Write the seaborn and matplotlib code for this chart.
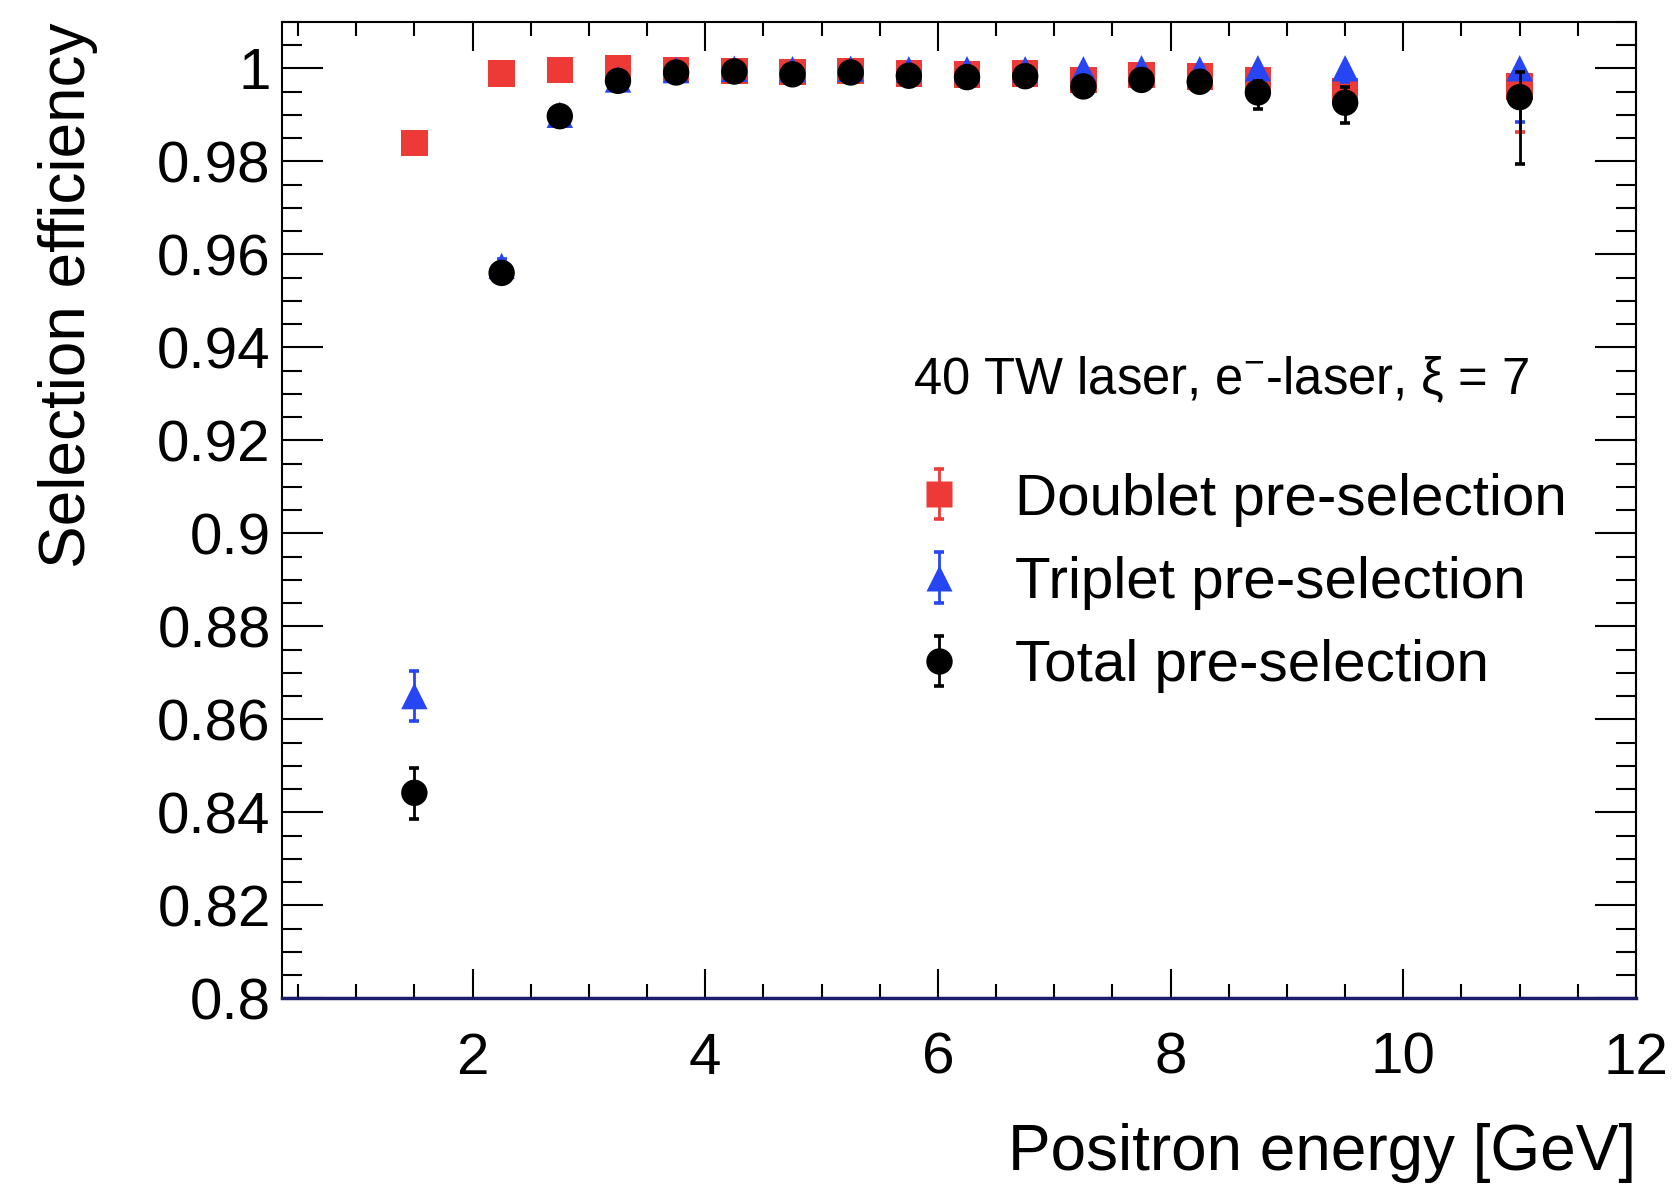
import matplotlib
matplotlib.use("Agg")
import matplotlib.pyplot as plt
import numpy as np
import pandas as pd
import seaborn as sns
from matplotlib.lines import Line2D
from matplotlib.container import ErrorbarContainer
from matplotlib.legend_handler import HandlerTuple, HandlerErrorbar
from matplotlib.ticker import MultipleLocator, FuncFormatter

# Positron energy bin centres [GeV]
energy = [1.5, 2.25, 2.75, 3.25, 3.75, 4.25, 4.75, 5.25, 5.75, 6.25,
          6.75, 7.25, 7.75, 8.25, 8.75, 9.5, 11.0]

# Doublet pre-selection efficiency and asymmetric errors
doublet_eff = [0.9839, 0.9989, 0.9996, 1.0000, 0.9996, 0.9994, 0.9992, 0.9994, 0.9989, 0.9987,
               0.9989, 0.9975, 0.9986, 0.9982, 0.9975, 0.9950, 0.9961]
doublet_lo = [0.0008, 0.0003, 0.0002, 0.0001, 0.0002, 0.0003, 0.0003, 0.0003, 0.0004, 0.0005,
              0.0005, 0.0008, 0.0008, 0.0010, 0.0015, 0.0025, 0.0097]
doublet_hi = [0.0008, 0.0003, 0.0002, 0.0000, 0.0002, 0.0003, 0.0003, 0.0003, 0.0004, 0.0004,
              0.0005, 0.0008, 0.0007, 0.0009, 0.0011, 0.0020, 0.0032]

# Triplet pre-selection efficiency and asymmetric errors
triplet_eff = [0.8650, 0.9575, 0.9900, 0.9976, 0.9996, 0.9999, 0.9998, 0.9999, 0.9998, 0.9998,
               0.9998, 0.9998, 1.0000, 0.9998, 1.0000, 1.0000, 1.0000]
triplet_lo = [0.0053, 0.0015, 0.0007, 0.0004, 0.0002, 0.0001, 0.0002, 0.0001, 0.0002, 0.0002,
              0.0002, 0.0003, 0.0004, 0.0003, 0.0008, 0.0030, 0.0115]
triplet_hi = [0.0053, 0.0014, 0.0006, 0.0003, 0.0002, 0.0001, 0.0002, 0.0001, 0.0002, 0.0002,
              0.0002, 0.0002, 0.0000, 0.0002, 0.0000, 0.0000, 0.0000]

# Total pre-selection efficiency and asymmetric errors
total_eff = [0.8442, 0.9560, 0.9897, 0.9973, 0.9991, 0.9993, 0.9987, 0.9991, 0.9984, 0.9981,
             0.9983, 0.9961, 0.9975, 0.9971, 0.9948, 0.9926, 0.9938]
total_lo = [0.0057, 0.0015, 0.0007, 0.0004, 0.0003, 0.0003, 0.0004, 0.0003, 0.0005, 0.0005,
            0.0005, 0.0008, 0.0008, 0.0010, 0.0036, 0.0044, 0.0143]
total_hi = [0.0053, 0.0014, 0.0007, 0.0003, 0.0003, 0.0002, 0.0004, 0.0003, 0.0005, 0.0005,
            0.0005, 0.0007, 0.0007, 0.0009, 0.0025, 0.0033, 0.0053]

labels = ["Doublet pre-selection", "Triplet pre-selection", "Total pre-selection"]
x_ticks = [2, 4, 6, 8, 10, 12]

RED = "#EE3A36"
BLUE = "#2646F4"
MS = 19

sns.set_style("ticks")
plt.rcParams["font.family"] = ["Liberation Sans", "DejaVu Sans"]
plt.rcParams["mathtext.fontset"] = "custom"
plt.rcParams["mathtext.rm"] = "Liberation Sans"
plt.rcParams["mathtext.it"] = "Liberation Sans:italic"
plt.rcParams["text.color"] = "black"
plt.rcParams["axes.labelcolor"] = "black"

fig = plt.figure(figsize=(16.79, 11.84), dpi=100)
ax = fig.add_axes([0.1678, 0.1568, 0.8066, 0.8248])

series = [
    (labels[0], doublet_eff, doublet_lo, doublet_hi, "s", RED, 3),
    (labels[1], triplet_eff, triplet_lo, triplet_hi, "^", BLUE, 5),
    (labels[2], total_eff, total_lo, total_hi, "o", "black", 7),
]

handles = []
for name, eff, lo, hi, mk, col, z in series:
    eb = ax.errorbar(energy, eff, yerr=[lo, hi], fmt="none", ecolor=col,
                     elinewidth=2.0, capsize=3.4, capthick=2.6, zorder=z)
    df = pd.DataFrame({"energy": energy, "eff": eff})
    sns.scatterplot(data=df, x="energy", y="eff", marker=mk, s=MS ** 2,
                    color=col, edgecolor="none", linewidth=0, ax=ax,
                    zorder=z + 1, legend=False)
    mh = Line2D([], [], marker=mk, ms=MS, color=col, mec="none", ls="none")
    handles.append((eb, mh))

ax.set_xlim(0.36, 12)
ax.set_ylim(0.8, 1.01)
ax.set_xlabel("")
ax.set_ylabel("")
ax.set_xticks(x_ticks)
ax.xaxis.set_minor_locator(MultipleLocator(0.5))
ax.yaxis.set_major_locator(MultipleLocator(0.02))
ax.yaxis.set_minor_locator(MultipleLocator(0.005))
ax.yaxis.set_major_formatter(FuncFormatter(lambda v, _: f"{v:.2f}".rstrip("0").rstrip(".")))
ax.xaxis.set_major_formatter(FuncFormatter(lambda v, _: f"{v:g}"))

ax.tick_params(axis="both", which="both", direction="in", top=True, right=True,
               width=1.5, color="black", labelcolor="black", labelsize=42)
ax.tick_params(axis="x", which="major", length=21, pad=24)
ax.tick_params(axis="x", which="minor", length=10)
ax.tick_params(axis="y", which="major", length=29.5, pad=8)
ax.tick_params(axis="y", which="minor", length=14.5)

for side in ["top", "left", "right"]:
    ax.spines[side].set_color("black")
    ax.spines[side].set_linewidth(1.5)
ax.spines["bottom"].set_color("#1c1c6a")
ax.spines["bottom"].set_linewidth(2.5)

fig.text(0.9744, 0.0118, "Positron energy [GeV]", ha="right", va="baseline",
         fontsize=46, color="black")
fig.text(0.0225, 0.981, "Selection efficiency", rotation=90, ha="left", va="top",
         fontsize=46, color="black")

fig.text(913 / 1679, 1 - 380 / 1184, r"40 TW laser, e$^{-}$-laser, ξ = 7",
         ha="left", va="center", fontsize=36.5, color="black")

leg = ax.legend(handles, labels,
                handler_map={tuple: HandlerTuple(ndivide=1),
                             ErrorbarContainer: HandlerErrorbar(xerr_size=0.43)},
                loc="center left", bbox_to_anchor=(910 / 1679, 1 - 583 / 1184),
                bbox_transform=fig.transFigure, frameon=False, fontsize=42,
                numpoints=1, handlelength=1.0, handletextpad=0.8,
                labelspacing=0.5, borderpad=0, borderaxespad=0, labelcolor="black")

fig.savefig("out.png", dpi=100)
